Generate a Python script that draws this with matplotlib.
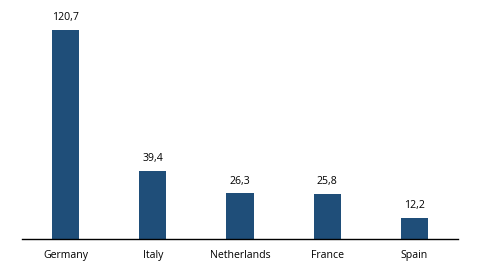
import matplotlib
matplotlib.use("Agg")
import matplotlib.pyplot as plt

categories = ["Germany", "Italy", "Netherlands", "France", "Spain"]
values = [120.7, 39.4, 26.3, 25.8, 12.2]
labels = ["120,7", "39,4", "26,3", "25,8", "12,2"]

plt.rcParams['font.family'] = ['Open Sans', 'DejaVu Sans']
fig = plt.figure(figsize=(4.95, 2.63), dpi=100)
ax = fig.add_axes([22/495, 24/263, 436/495, 239/263])
x = range(len(categories))
bars = ax.bar(x, values, width=0.31, color="#1F4E79")
ax.set_xlim(-0.5, len(categories) - 0.5)
ax.set_ylim(0, 138)
for xi, v, lab in zip(x, values, labels):
    ax.annotate(lab, (xi, v), xytext=(0, 5), textcoords="offset points",
                ha="center", va="bottom", fontsize=7.6, color="#000000")
ax.set_xticks(list(x))
ax.set_xticklabels(categories, fontsize=7.6)
ax.tick_params(axis="x", length=0, pad=8)
ax.set_yticks([])
for s in ["top", "right", "left"]:
    ax.spines[s].set_visible(False)
ax.spines["bottom"].set_linewidth(1.0)
ax.spines["bottom"].set_color("#000000")
fig.savefig("out.png", dpi=100)
